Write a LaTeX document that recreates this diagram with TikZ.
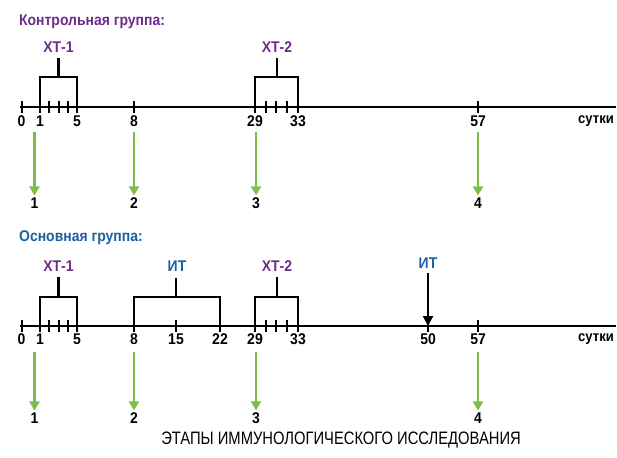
\documentclass[tikz,border=0pt]{standalone}
\usepackage{fontspec}
\setmainfont{Liberation Sans}[FakeStretch=0.9]
\newfontfamily\capfont{Liberation Sans}[FakeStretch=0.82]
\usetikzlibrary{arrows.meta}
\definecolor{cpurple}{RGB}{112,42,138}
\definecolor{cblue}{RGB}{28,96,160}
\definecolor{cgreen}{RGB}{124,190,74}
\tikzset{
  axisline/.style={line width=2pt},
  tickmark/.style={line width=2pt},
  bracketline/.style={line width=2.5pt},
  numlabel/.style={font=\fontsize{15.5}{17}\selectfont\bfseries, inner sep=0pt},
  grouptitle/.style={font=\fontsize{15.5}{17}\selectfont\bfseries, inner sep=0pt, anchor=west},
  treatlabel/.style={font=\fontsize{15.5}{17}\selectfont\bfseries, inner sep=0pt},
  greenarrow/.style={draw=cgreen, line width=2.6pt, -{Triangle[width=10pt,length=9pt]}, shorten >=2pt},
  blackarrow/.style={line width=2pt, -{Triangle[width=10pt,length=10pt]}},
  unitlabel/.style={font=\fontsize{14.5}{16}\selectfont\bfseries, inner sep=0pt, anchor=east},
}
\begin{document}
\begin{tikzpicture}[x=1pt,y=-1pt]
\useasboundingbox (0,0) rectangle (617,457);
% ---------------- Control group ----------------
\node[grouptitle, text=cpurple] (t1) at (19,22) {Контрольная группа:};
\coordinate (A0) at (20,107);
\coordinate (A1) at (616,107);
\draw[axisline] (A0) -- (A1);
\foreach \n/\x in {c0/21.5,c1/40,cm1/49,cm2/58.5,cm3/68,c5/77,c8/134,c29/255,cm4/266,cm5/276,cm6/286.5,c33/298,c57/478}{
  \coordinate (\n) at (\x,107);
  \draw[tickmark] ([yshift=-6pt]\n) -- ([yshift=6pt]\n);
}
\foreach \n/\t in {c0/0,c1/1,c5/5,c8/8,c29/29,c33/33,c57/57}{
  \node[numlabel] (l\n) at ([yshift=-14pt]\n) {\t};
}
\node[unitlabel] (u1) at (614,121) {сутки};
% brackets
\coordinate (b1l) at (40,77); \coordinate (b1r) at (77,77);
\draw[bracketline] (c1) -- (b1l) -- (b1r) -- (c5);
\node[treatlabel, text=cpurple] (x1) at (58.5,47) {ХТ-1};
\draw[bracketline] (x1.south |- b1l) -- ++(0,-19);
\coordinate (b2l) at (255,77); \coordinate (b2r) at (298,77);
\draw[bracketline] (c29) -- (b2l) -- (b2r) -- (c33);
\node[treatlabel, text=cpurple] (x2) at (277,47) {ХТ-2};
\draw[bracketline] (x2.south |- b2l) -- ++(0,-19);
% green arrows
\foreach \i/\x in {1/34.5,2/134,3/256,4/478}{
  \node[numlabel] (s\i) at (\x,203) {\i};
  \coordinate (g\i) at (\x,132);
  \draw[greenarrow] (g\i) -- (s\i.north);
}
% ---------------- Main group ----------------
\node[grouptitle, text=cblue] (t2) at (19,238) {Основная группа:};
\coordinate (B0) at (20,326);
\coordinate (B1) at (616,326);
\draw[axisline] (B0) -- (B1);
\foreach \n/\x in {d0/21.5,d1/40,dm1/49,dm2/58.5,dm3/68,d5/77,d8/134,d15/176,d22/220,d29/255,dm4/266,dm5/276,dm6/286.5,d33/298,d50/428,d57/478}{
  \coordinate (\n) at (\x,326);
  \draw[tickmark] ([yshift=-6pt]\n) -- ([yshift=6pt]\n);
}
\foreach \n/\t in {d0/0,d1/1,d5/5,d8/8,d15/15,d22/22,d29/29,d33/33,d50/50,d57/57}{
  \node[numlabel] (l\n) at ([yshift=-13pt]\n) {\t};
}
\node[unitlabel] (u2) at (614,339) {сутки};
\coordinate (e1l) at (40,297); \coordinate (e1r) at (77,297);
\draw[bracketline] (d1) -- (e1l) -- (e1r) -- (d5);
\node[treatlabel, text=cpurple] (y1) at (58.5,266) {ХТ-1};
\draw[bracketline] (y1.south |- e1l) -- ++(0,-20);
\coordinate (e2l) at (134,297); \coordinate (e2r) at (220,297);
\draw[bracketline] (d8) -- (e2l) -- (e2r) -- (d22);
\node[treatlabel, text=cblue] (y2) at (177,266) {ИТ};
\draw[bracketline] (d15 |- e2l) -- ++(0,-19);
\coordinate (e3l) at (255,297); \coordinate (e3r) at (298,297);
\draw[bracketline] (d29) -- (e3l) -- (e3r) -- (d33);
\node[treatlabel, text=cpurple] (y3) at (277,266) {ХТ-2};
\draw[bracketline] (y3.south |- e3l) -- ++(0,-20);
\node[treatlabel, text=cblue] (y4) at (428,263) {ИТ};
\draw[blackarrow] ([yshift=-4pt]y4.south) -- (d50);
\foreach \i/\x in {1/34.5,2/134,3/256,4/478}{
  \node[numlabel] (r\i) at (\x,418) {\i};
  \coordinate (h\i) at (\x,352);
  \draw[greenarrow] (h\i) -- (r\i.north);
}
\node[font=\capfont\fontsize{18}{20}\selectfont, inner sep=0pt] (cap) at (341,440) {ЭТАПЫ ИММУНОЛОГИЧЕСКОГО ИССЛЕДОВАНИЯ};
\end{tikzpicture}
\end{document}
